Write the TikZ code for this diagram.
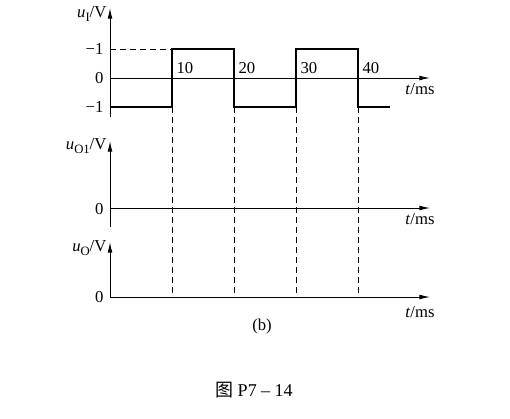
\documentclass[tikz,border=0pt]{standalone}
\usepackage{fontspec}
\setmainfont{Liberation Serif}
\newfontfamily\cjk{Noto Sans CJK SC}
\usetikzlibrary{arrows.meta}
\newcommand\lowidx[1]{\raisebox{-0.45ex}{\fontsize{9.5}{10}\selectfont #1}}

\begin{document}
\begin{tikzpicture}[x=0.75pt,y=-0.75pt,
    axis/.style={line width=0.7pt,-{Latex[length=8pt,width=3.6pt]}},
    wave/.style={line width=1.5pt},
    guide/.style={line width=0.7pt,dash pattern=on 4.5pt off 3pt},
    lbl/.style={font=\fontsize{12.5}{14}\selectfont,inner sep=1pt}]
        \useasboundingbox (0,0) rectangle (510,418);
        % input u_I
        \draw[axis] (110,117) -- (110,8);
        \draw[axis] (110,78) -- (430,78);
        \node[lbl,anchor=east] (uI) at (108,14) {\textit{u}\lowidx{I}/V};
        \node[lbl,anchor=east] (hi) at (105,49) {−1};
        \node[lbl,anchor=east] (zA) at (105,78) {0};
        \node[lbl,anchor=east] (lo) at (105,107) {−1};
        \node[lbl] (tA) at (420,89) {\textit{t}/ms};
        \draw[guide] (110,49) -- (172,49);
        \draw[wave] (110,107) -- (172,107) -- (172,49) -- (234,49) -- (234,107)
            -- (296,107) -- (296,49) -- (358,49) -- (358,107) -- (390,107);
        \foreach \x/\t in {172/10,234/20,296/30,358/40} {
            \node[lbl,anchor=west] at (\x+3,68) {\t};
            \draw[guide] (\x,107) -- (\x,297);
        }
        % u_O1
        \draw[axis] (110,227) -- (110,141);
        \draw[axis] (110,208) -- (430,208);
        \node[lbl,anchor=east] (uO1) at (108,146) {\textit{u}\lowidx{O1}/V};
        \node[lbl,anchor=east] (zB) at (105,209) {0};
        \node[lbl] (tB) at (420,219) {\textit{t}/ms};
        % u_O
        \draw[axis] (110,297) -- (110,242);
        \draw[axis] (110,297) -- (430,297);
        \node[lbl,anchor=east] (uO) at (108,248) {\textit{u}\lowidx{O}/V};
        \node[lbl,anchor=east] (zC) at (105,297) {0};
        \node[lbl] (tC) at (420,312) {\textit{t}/ms};
        \node[lbl] (sub) at (262,326) {(b)};
        \node[lbl,font=\fontsize{13.5}{15}\selectfont] (cap) at (254,390) {{\cjk 图} P7 – 14};
    \end{tikzpicture}
\end{document}
